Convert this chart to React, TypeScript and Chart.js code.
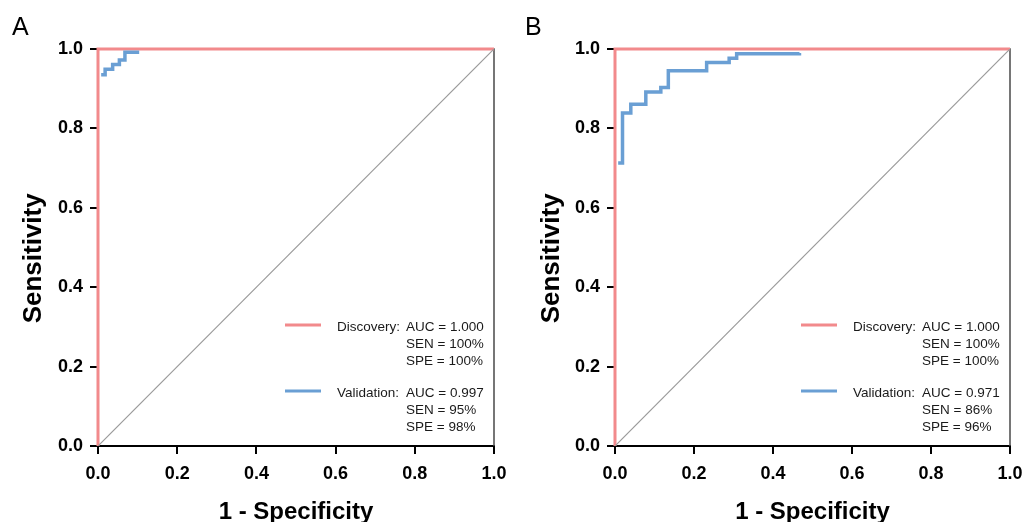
import React, { useEffect, useRef } from "react";
import { Chart, registerables } from "chart.js";

Chart.register(...registerables);

// ---- data ----
const tickValues = [0, 0.2, 0.4, 0.6, 0.8, 1.0];
const diagFpr = [0, 1];
const diagTpr = [0, 1];
const discFpr = [0, 0, 1];
const discTpr = [0, 1, 1];
const aValFpr = [0.008, 0.018, 0.037, 0.054, 0.068, 0.104];
const aValTpr = [0.935, 0.949, 0.961, 0.972, 0.992, 0.992];
const bValFpr = [0.008, 0.019, 0.04, 0.078, 0.116, 0.135, 0.232, 0.289, 0.308, 0.467];
const bValTpr = [0.713, 0.839, 0.861, 0.892, 0.903, 0.945, 0.966, 0.977, 0.988, 0.99];
const legendNames = ["Discovery:", "Validation:"];
const aStats = [
  ["AUC = 1.000", "SEN = 100%", "SPE = 100%"],
  ["AUC = 0.997", "SEN = 95%", "SPE = 98%"],
];
const bStats = [
  ["AUC = 1.000", "SEN = 100%", "SPE = 100%"],
  ["AUC = 0.971", "SEN = 86%", "SPE = 96%"],
];

const RED = "#f28a8c";
const BLUE = "#6a9fd4";
const FONT = "'Liberation Sans', Arial, Helvetica, sans-serif";

const pts = (xs: number[], ys: number[]) => xs.map((x, i) => ({ x, y: ys[i] }));

type PanelProps = {
  left: number;
  width: number;
  yW: number;
  rightPad: number;
  yTitlePad: number;
  fpr: number[];
  tpr: number[];
  stats: string[][];
};

function Panel({ left, width, yW, rightPad, yTitlePad, fpr, tpr, stats }: PanelProps) {
  const ref = useRef<HTMLCanvasElement>(null);
  useEffect(() => {
    if (!ref.current) return;
    const framePlugin = {
      id: "frame",
      beforeDatasetsDraw(chart: any) {
        const { ctx, chartArea: a } = chart;
        ctx.save();
        ctx.strokeStyle = "#4a4a4a";
        ctx.lineWidth = 1.5;
        ctx.beginPath();
        ctx.moveTo(a.left, a.top);
        ctx.lineTo(a.right, a.top);
        ctx.lineTo(a.right, a.bottom);
        ctx.stroke();
        ctx.restore();
      },
    };
    const legendPlugin = {
      id: "rocLegend",
      afterDatasetsDraw(chart: any) {
        const { ctx, chartArea: a } = chart;
        ctx.save();
        ctx.font = `13.5px ${FONT}`;
        ctx.fillStyle = "#1a1a1a";
        ctx.textBaseline = "alphabetic";
        const colors = [RED, BLUE];
        const groupY = [331, 397];
        groupY.forEach((gy, gi) => {
          const baseY = gy;
          ctx.strokeStyle = colors[gi];
          ctx.lineWidth = 3;
          ctx.beginPath();
          ctx.moveTo(a.right - 209, baseY - 6);
          ctx.lineTo(a.right - 173, baseY - 6);
          ctx.stroke();
          ctx.fillText(legendNames[gi], a.right - 157, baseY);
          stats[gi].forEach((s, li) => {
            ctx.fillText(s, a.right - 88, baseY + li * 17);
          });
        });
        ctx.restore();
      },
    };
    const axisCommon = (isX: boolean) => ({
      type: "linear" as const,
      min: 0,
      max: 1,
      afterBuildTicks: (s: any) => {
        s.ticks = tickValues.map((v) => ({ value: v }));
      },
      afterFit: (s: any) => {
        if (isX) {
          s.height = 76;
          s.paddingLeft = 0;
          s.paddingRight = 0;
        } else {
          s.width = yW;
          s.paddingTop = 0;
          s.paddingBottom = 0;
        }
      },
      ticks: {
        color: "#000",
        font: { family: FONT, size: 18, weight: "bold" as const },
        padding: isX ? 9 : 7,
        maxRotation: 0,
        callback: (v: any) => Number(v).toFixed(1),
      },
      grid: {
        drawOnChartArea: false,
        drawTicks: true,
        tickLength: 8,
        color: "#000",
        lineWidth: 2,
      },
      border: { display: true, color: "#000", width: 2 },
      title: {
        display: true,
        text: isX ? "1 - Specificity" : "Sensitivity   ",
        color: "#000",
        font: { family: FONT, size: isX ? 24 : 26, weight: "bold" as const, lineHeight: 1 },
        padding: isX ? { top: 0, bottom: -2 } : { top: yTitlePad, bottom: 0 },
      },
    });
    const chart = new Chart(ref.current, {
      type: "line",
      data: {
        datasets: [
          {
            label: "Reference",
            data: pts(diagFpr, diagTpr),
            borderColor: "#9a9a9a",
            borderWidth: 1.2,
            pointRadius: 0,
          },
          {
            label: "Validation",
            data: pts(fpr, tpr),
            borderColor: BLUE,
            borderWidth: 3.5,
            pointRadius: 0,
            stepped: "before",
            clip: false as any,
          },
          {
            label: "Discovery",
            data: pts(discFpr, discTpr),
            borderColor: RED,
            borderWidth: 3,
            pointRadius: 0,
            clip: false as any,
          },
        ],
      },
      options: {
        animation: false,
        responsive: false,
        devicePixelRatio: 1,
        parsing: false as any,
        layout: { padding: { left: 0, top: 49, right: rightPad, bottom: 0 } },
        plugins: { legend: { display: false }, tooltip: { enabled: false } },
        scales: { x: axisCommon(true) as any, y: axisCommon(false) as any },
      },
      plugins: [framePlugin, legendPlugin],
    });
    return () => chart.destroy();
  }, []);
  return (
    <canvas
      ref={ref}
      width={width}
      height={522}
      style={{ position: "absolute", left, top: 0, width, height: 522 }}
    />
  );
}

export default function App() {
  const label: React.CSSProperties = {
    position: "absolute",
    top: 14,
    fontFamily: FONT,
    fontSize: 25,
    lineHeight: "25px",
    color: "#000",
  };
  return (
    <div style={{ position: "absolute", left: 0, top: 0, width: 1025, height: 522, background: "#fff" }}>
      <Panel left={0} width={512} yW={98} rightPad={18} yTitlePad={21} fpr={aValFpr} tpr={aValTpr} stats={aStats} />
      <Panel left={512} width={513} yW={103} rightPad={15} yTitlePad={27} fpr={bValFpr} tpr={bValTpr} stats={bStats} />
      <div style={{ ...label, left: 12 }}>A</div>
      <div style={{ ...label, left: 525 }}>B</div>
    </div>
  );
}
